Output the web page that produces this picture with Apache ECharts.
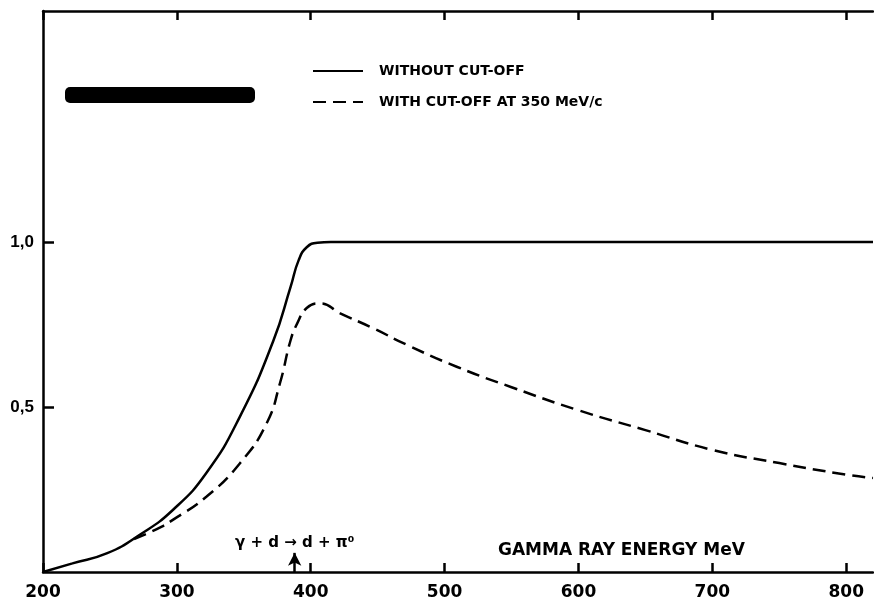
<!DOCTYPE html>
<html>
<head>
<meta charset="utf-8">
<script src="https://cdn.jsdelivr.net/npm/echarts@6/dist/echarts.min.js"></script>
<style>
  html, body { margin: 0; padding: 0; background: #fff; }
  #chart { width: 874px; height: 606px; }
</style>
</head>
<body>
<div id="chart"></div>
<script>
  // gamma ray energy (MeV) vs relative yield
  var withoutCutOff = [
    [200, 0], [222, 0.026], [248, 0.057], [272, 0.112], [297, 0.188],
    [322, 0.30], [347, 0.47], [372, 0.70], [385, 0.865], [391, 0.945],
    [397, 0.984], [405, 0.998], [415, 1.0], [440, 1.0], [500, 1.0],
    [600, 1.0], [700, 1.0], [820, 1.0]
  ]
  var withCutOff = [
    [268, 0.10], [285, 0.13], [297, 0.158], [322, 0.228], [347, 0.329],
    [367, 0.45], [377, 0.572], [385, 0.703], [390, 0.754], [397, 0.80],
    [407, 0.814], [422, 0.784], [447, 0.738], [472, 0.688], [509, 0.622],
    [550, 0.56], [600, 0.49], [650, 0.43], [700, 0.37], [750, 0.33],
    [800, 0.295], [820, 0.285]
  ]
  var xTicks = [200, 300, 400, 500, 600, 700, 800]
  var yTicks = [0.5, 1.0]
  var thresholdArrow = [[388, 0], [388, 0.058]]

  var chart = echarts.init(document.getElementById('chart'))
  var ink = '#000'
  var font = 'DejaVu Sans'

  chart.setOption({
    animation: false,
    grid: { left: 43, right: 1, top: 11, bottom: 34 },
    legend: {
      orient: 'vertical',
      left: 307,
      top: 59,
      itemWidth: 50,
      itemHeight: 14,
      itemGap: 17,
      itemStyle: { opacity: 0 },
      textStyle: { color: ink, fontFamily: font, fontWeight: 'bold', fontSize: 14, padding: [0, 0, 0, 11] },
      data: ['WITHOUT CUT-OFF', 'WITH CUT-OFF AT 350 MeV/c']
    },
    xAxis: [{
      type: 'value',
      min: 200,
      max: 820,
      position: 'bottom',
      splitLine: { show: false },
      axisLine: { show: true, lineStyle: { color: ink, width: 2.5 } },
      axisTick: { inside: true, length: 9, customValues: xTicks, lineStyle: { color: ink, width: 2.5 } },
      axisLabel: {
        customValues: xTicks, color: ink, fontFamily: font, fontWeight: 'bold', fontSize: 17, margin: 12
      }
    }, {
      type: 'value',
      min: 200,
      max: 820,
      position: 'top',
      splitLine: { show: false },
      axisLine: { show: true, onZero: false, lineStyle: { color: ink, width: 2.5 } },
      axisTick: { inside: true, length: 9, customValues: xTicks, lineStyle: { color: ink, width: 2.5 } },
      axisLabel: { show: false }
    }],
    yAxis: {
      type: 'value',
      min: 0,
      max: 1.7,
      splitLine: { show: false },
      axisLine: { show: true, lineStyle: { color: ink, width: 2.5 } },
      axisTick: { inside: true, length: 11, customValues: yTicks, lineStyle: { color: ink, width: 2.5 } },
      axisLabel: {
        customValues: yTicks,
        color: ink,
        fontFamily: 'Liberation Sans',
        fontWeight: 'bold',
        fontSize: 17,
        margin: 9,
        formatter: function (v) { return v.toFixed(1).replace('.', ',') }
      }
    },
    series: [{
      name: 'WITHOUT CUT-OFF',
      type: 'line',
      data: withoutCutOff,
      smooth: 0.5,
      symbol: 'none',
      lineStyle: { color: ink, width: 2.5 },
      itemStyle: { color: ink },
      markLine: {
        silent: true,
        symbol: ['none', 'arrow'],
        symbolSize: [10, 13],
        lineStyle: { color: ink, width: 2.5, type: 'solid' },
        label: {
          position: 'end',
          distance: 2,
          formatter: 'γ + d → d + π⁰',
          color: ink,
          fontFamily: font,
          fontWeight: 'bold',
          fontSize: 15
        },
        data: [[{ coord: thresholdArrow[0] }, { coord: thresholdArrow[1] }]]
      }
    }, {
      name: 'WITH CUT-OFF AT 350 MeV/c',
      type: 'line',
      data: withCutOff,
      smooth: 0.5,
      symbol: 'none',
      lineStyle: { color: ink, width: 2.5, type: [13, 7] },
      itemStyle: { color: ink }
    }],
    graphic: [{
      // scribbled-out label in the top left corner
      type: 'rect',
      shape: { x: 65, y: 87, width: 190, height: 16, r: 5 },
      style: { fill: ink }
    }, {
      type: 'text',
      left: 498,
      top: 542,
      style: { text: 'GAMMA RAY ENERGY MeV', fill: ink, font: 'bold 17px "DejaVu Sans"' }
    }]
  })
</script>
</body>
</html>
